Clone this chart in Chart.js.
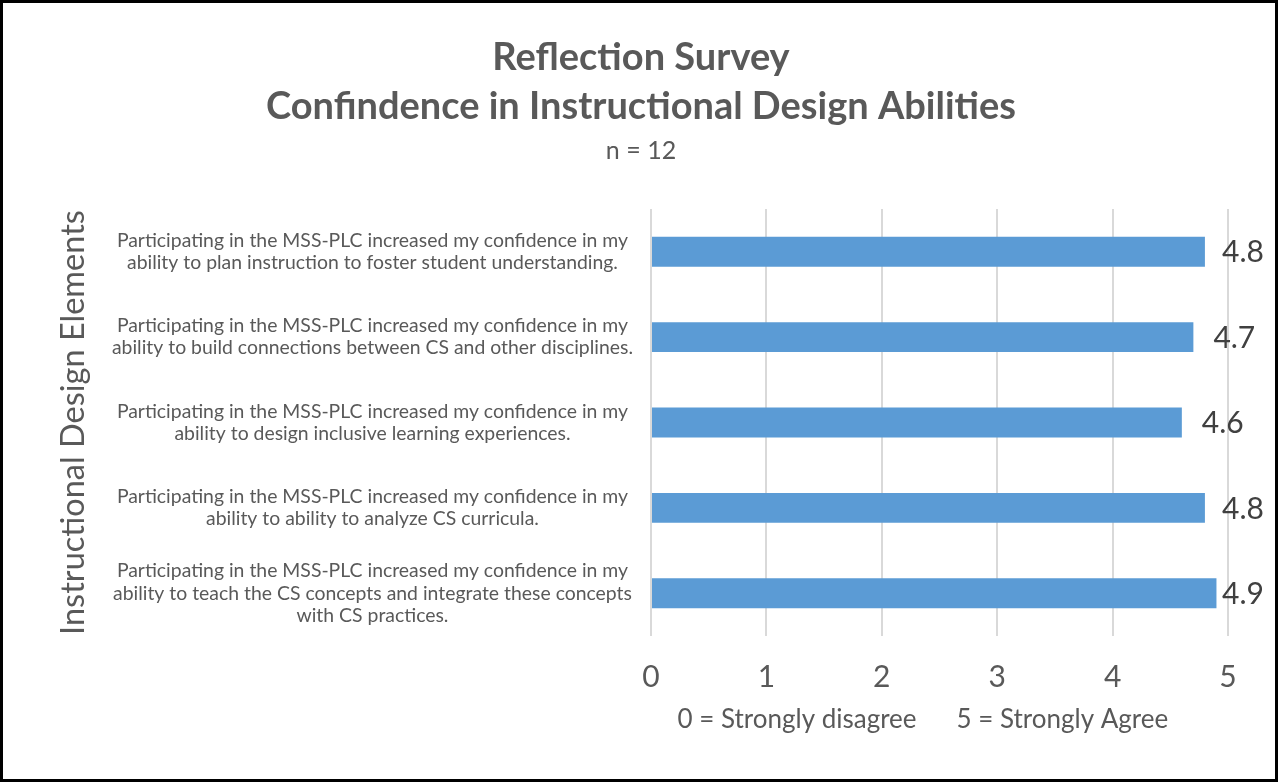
<!DOCTYPE html>
<html>
<head>
<meta charset="utf-8">
<script src="https://cdn.jsdelivr.net/npm/chart.js@4.4.1/dist/chart.umd.min.js"></script>
<style>
  html, body { margin: 0; padding: 0; background: #fff; }
  #frame {
    width: 1278px;
    height: 782px;
    box-sizing: border-box;
    border: 3px solid #000;
    background: #fff;
  }
  #chart { display: block; }
</style>
</head>
<body>
<div id="frame"><canvas id="chart" width="1272" height="776"></canvas></div>
<script>
// ---------------- DATA ----------------
const categories = [
  ["Participating in the MSS-PLC increased my confidence in my", "ability to plan instruction to foster student understanding."],
  ["Participating in the MSS-PLC increased my confidence in my", "ability to build connections between CS and other disciplines."],
  ["Participating in the MSS-PLC increased my confidence in my", "ability to design inclusive learning experiences."],
  ["Participating in the MSS-PLC increased my confidence in my", "ability to ability to analyze CS curricula."],
  ["Participating in the MSS-PLC increased my confidence in my", "ability to teach the CS concepts and integrate these concepts", "with CS practices."],
];
const scores = [4.8, 4.7, 4.6, 4.8, 4.9];
const xTicks = [0, 1, 2, 3, 4, 5];

const titleLines = ["Reflection Survey", "Confindence in Instructional Design Abilities"];
const subtitleText = "n = 12";
const yTitle = "Instructional Design Elements";
const xTitle = "0 = Strongly disagree      5 = Strongly Agree     ";

const TEXT = "#595959";
const FONT = "Lato, 'Open Sans', sans-serif";

// ---------------- VALUE LABELS ----------------
const valueLabels = {
  id: "valueLabels",
  afterDatasetsDraw(chart) {
    const ctx = chart.ctx;
    const meta = chart.getDatasetMeta(0);
    ctx.save();
    ctx.font = "30px " + FONT;
    ctx.fillStyle = "#404040";
    ctx.textAlign = "left";
    ctx.textBaseline = "middle";
    meta.data.forEach((bar, i) => {
      const txt = scores[i].toFixed(1);
      const w = ctx.measureText(txt).width;
      // keep label inside the frame, like Excel does
      const x = Math.min(bar.x + 20, chart.width - 11 - w);
      ctx.fillText(txt, x, bar.y + 1);
    });
    ctx.restore();
  },
};

// ---------------- CHART ----------------
new Chart(document.getElementById("chart"), {
  type: "bar",
  data: {
    labels: categories,
    datasets: [
      {
        data: scores,
        backgroundColor: "#5B9BD5",
        borderWidth: 0,
        barPercentage: 0.35,
        categoryPercentage: 1,
      },
    ],
  },
  options: {
    indexAxis: "y",
    responsive: false,
    animation: false,
    layout: { padding: { left: 51, right: 47, top: 0, bottom: 46 } },
    plugins: {
      legend: { display: false },
      tooltip: { enabled: false },
      title: {
        display: true,
        text: titleLines,
        color: TEXT,
        font: { family: FONT, size: 38, weight: "bold", lineHeight: 1.29 },
        padding: { top: 30, bottom: 5 },
      },
      subtitle: {
        display: true,
        text: subtitleText,
        color: TEXT,
        font: { family: FONT, size: 25, lineHeight: 1.2 },
        padding: { top: 0, bottom: 43 },
      },
    },
    scales: {
      x: {
        min: 0,
        max: 5,
        afterBuildTicks(axis) {
          axis.ticks = xTicks.map((v) => ({ value: v }));
        },
        afterFit(axis) {
          axis.height = 97;
        },
        grid: { color: "#d9d9d9", lineWidth: 2, drawTicks: false },
        border: { display: false },
        ticks: {
          color: TEXT,
          padding: 23,
          font: { family: FONT, size: 30, lineHeight: 1.2 },
        },
        title: {
          display: true,
          text: xTitle,
          color: TEXT,
          font: { family: FONT, size: 26, lineHeight: 1 },
          padding: { top: 0, bottom: 0 },
        },
      },
      y: {
        afterFit(axis) {
          axis.width = 597;
        },
        grid: { display: false, drawTicks: false },
        border: { display: false },
        ticks: {
          color: TEXT,
          padding: 18,
          crossAlign: "center",
          font: { family: FONT, size: 19.4, lineHeight: 1.14 },
        },
        title: {
          display: true,
          text: yTitle,
          color: TEXT,
          font: { family: FONT, size: 32.5, lineHeight: 1.2 },
          padding: { top: 0, bottom: 0 },
        },
      },
    },
  },
  plugins: [valueLabels],
});
</script>
</body>
</html>
